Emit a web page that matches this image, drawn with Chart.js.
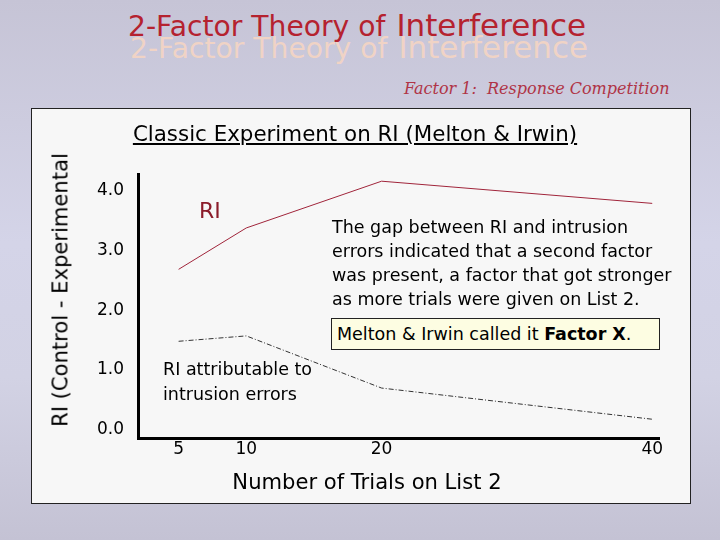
<!DOCTYPE html>
<html>
<head>
<meta charset="utf-8">
<script src="https://cdn.jsdelivr.net/npm/chart.js@4.4.0/dist/chart.umd.min.js"></script>
<style>
  html, body { margin: 0; padding: 0; }
  body {
    width: 720px; height: 540px; position: relative; overflow: hidden;
    background: linear-gradient(to bottom, #c6c4d6 0%, #d4d4e8 45%, #d2d2e4 70%, #c4c2d4 100%);
    font-family: "DejaVu Sans", sans-serif;
  }
  .t { position: absolute; white-space: nowrap; line-height: 1; }
  #panel {
    position: absolute; left: 31px; top: 108px; width: 660px; height: 396px;
    box-sizing: border-box; background: #f7f7f7; border: 1px solid #222;
  }
  #chart { position: absolute; left: 31px; top: 108px; }
  .title { left: 128px; top: 10px; font-size: 31px; color: #b5222f; }
  .title span { font-size: 28.2px; padding-right: 11px; }
  .shadow { left: 130px; top: 32px; color: rgba(248, 214, 194, 0.85); }
  .sub { left: 404px; top: 81px; font-size: 16px; font-style: italic; color: #b03446;
         font-family: "DejaVu Serif", "Liberation Serif", serif; }
  .ctitle { left: 0; width: 710px; text-align: center; top: 123px; font-size: 21.4px; color: #000; }
  .ctitle span { text-decoration: underline; }
  .xtitle { left: 0; width: 734px; text-align: center; top: 471px; font-size: 21.1px; color: #000; }
  .ytitle { left: 60px; top: 290px; font-size: 21.1px; color: #000;
            transform: translate(-50%, -50%) rotate(-90deg); }
  .note { font-size: 17.5px; color: #000; }
  .ri { left: 199px; top: 200px; font-size: 22px; color: #8b1c2a; }
  .box {
    position: absolute; left: 331px; top: 318px; width: 329px; height: 32px;
    box-sizing: border-box; background: #fdfde2; border: 1px solid #222;
    font-size: 17.5px; line-height: 30px; padding-left: 5px; white-space: nowrap;
  }
</style>
</head>
<body>
<div id="panel"></div>
<div class="t title shadow"><span>2-Factor Theory of</span>Interference</div>
<div class="t title"><span>2-Factor Theory of</span>Interference</div>
<div class="t sub">Factor 1:&nbsp; Response Competition</div>
<canvas id="chart" width="660" height="396"></canvas>
<div class="t ctitle"><span>Classic Experiment on RI (Melton &amp; Irwin)</span></div>
<div class="t xtitle">Number of Trials on List 2</div>
<div class="t ytitle">RI (Control - Experimental</div>
<div class="t ri">RI</div>
<div class="t note" style="left:163px; top:357px; line-height:25px;">RI attributable to<br>intrusion errors</div>
<div class="t note" style="left:332px; top:215px; line-height:24px;">The gap between RI and intrusion<br>errors indicated that a second factor<br>was present, a factor that got stronger<br>as more trials were given on List 2.</div>
<div class="box">Melton &amp; Irwin called it <b>Factor X</b>.</div>
<script>
// trials on list 2 and the two curves
const trials = [5, 10, 20, 40];
const riValues = [2.68, 3.37, 4.15, 3.78];
const intrusionValues = [1.48, 1.57, 0.70, 0.18];

const xTickValues = [5, 10, 20, 40];
const yTickValues = [0, 1, 2, 3, 4];

const tickFont = { family: "'DejaVu Sans', sans-serif", size: 17 };

const ctx = document.getElementById("chart").getContext("2d");
new Chart(ctx, {
  type: "line",
  data: {
    datasets: [
      {
        label: "RI",
        data: trials.map((t, i) => ({ x: t, y: riValues[i] })),
        borderColor: "#a0243a",
        borderWidth: 1,
        pointRadius: 0,
        tension: 0,
      },
      {
        label: "RI attributable to intrusion errors",
        data: trials.map((t, i) => ({ x: t, y: intrusionValues[i] })),
        borderColor: "#333333",
        borderWidth: 1,
        borderDash: [5, 2, 1, 2],
        pointRadius: 0,
        tension: 0,
      },
    ],
  },
  options: {
    responsive: false,
    animation: false,
    devicePixelRatio: 1,
    layout: { padding: { top: 66, right: 32, left: 0, bottom: 0 } },
    plugins: { legend: { display: false }, tooltip: { enabled: false } },
    scales: {
      x: {
        type: "linear",
        min: 2,
        max: 40.5,
        grid: { display: false, drawTicks: false },
        border: { display: true, color: "#000", width: 3 },
        ticks: { color: "#000", font: tickFont, padding: 1, maxRotation: 0, autoSkip: false },
        afterBuildTicks: function (scale) {
          scale.ticks = xTickValues.map(v => ({ value: v }));
        },
        afterFit: function (scale) {
          scale.height = 66;
        },
      },
      y: {
        type: "linear",
        min: -0.133,
        max: 4.27,
        grid: { display: false, drawTicks: false },
        border: { display: true, color: "#000", width: 3 },
        ticks: {
          color: "#000",
          font: tickFont,
          padding: 14,
          callback: function (value) {
            return value.toFixed(1);
          },
        },
        afterBuildTicks: function (scale) {
          scale.ticks = yTickValues.map(v => ({ value: v }));
        },
        afterFit: function (scale) {
          scale.width = 107;
        },
      },
    },
  },
});
</script>
</body>
</html>
